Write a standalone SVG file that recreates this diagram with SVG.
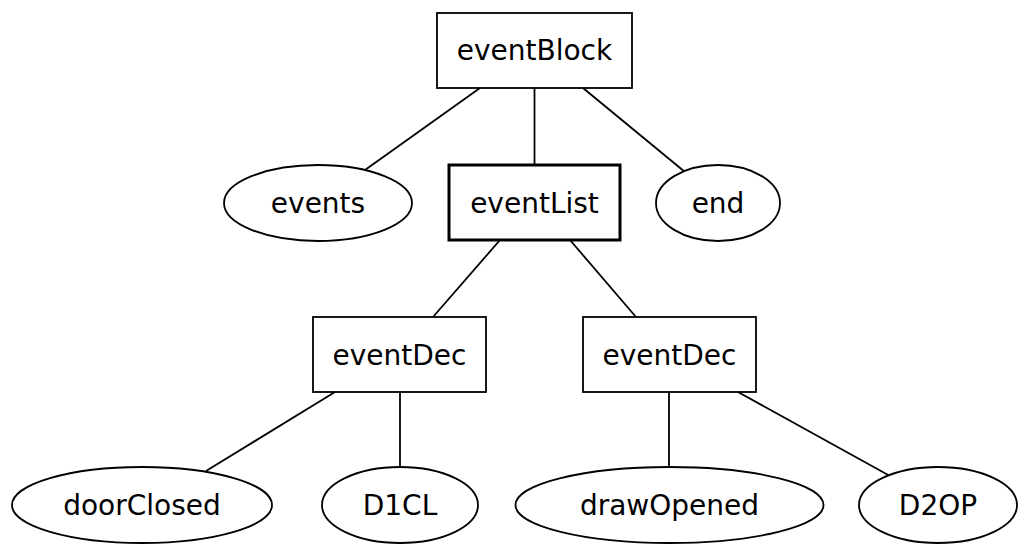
<svg xmlns="http://www.w3.org/2000/svg" width="1025" height="546" viewBox="0 0 1025 546">
<style>
.n{fill:#fff;stroke:#000;stroke-width:1.8}
.b{fill:#fff;stroke:#000;stroke-width:3}
.t{font-family:"DejaVu Sans",sans-serif;font-size:28px;text-anchor:middle;fill:#000}
.e{stroke:#000;stroke-width:1.8;fill:none}
</style>
<rect width="1025" height="546" fill="#fff"/>
<g id="edges">
<line class="e" x1="480" y1="88" x2="365" y2="170"/>
<line class="e" x1="534.5" y1="88" x2="534.5" y2="165"/>
<line class="e" x1="583" y1="88" x2="685" y2="172"/>
<line class="e" x1="500" y1="240" x2="433" y2="317"/>
<line class="e" x1="570" y1="240" x2="636" y2="317"/>
<line class="e" x1="335" y1="392" x2="206" y2="471"/>
<line class="e" x1="400" y1="392" x2="400" y2="467"/>
<line class="e" x1="669" y1="392" x2="669" y2="467"/>
<line class="e" x1="738" y1="392" x2="890" y2="476"/>
</g>
<g id="eventBlock"><rect class="n" x="437" y="13" width="195" height="75"/><text class="t" x="534.5" y="60">eventBlock</text></g>
<g id="events"><ellipse class="n" cx="318" cy="203" rx="94" ry="38"/><text class="t" x="318" y="213">events</text></g>
<g id="eventList"><rect class="b" x="449" y="165" width="171" height="75"/><text class="t" x="534.5" y="213">eventList</text></g>
<g id="end"><ellipse class="n" cx="718" cy="203" rx="62" ry="38"/><text class="t" x="718" y="213">end</text></g>
<g id="eventDec1"><rect class="n" x="313" y="317" width="173" height="75"/><text class="t" x="399.5" y="365">eventDec</text></g>
<g id="eventDec2"><rect class="n" x="583" y="317" width="173" height="75"/><text class="t" x="669.5" y="365">eventDec</text></g>
<g id="doorClosed"><ellipse class="n" cx="142" cy="505" rx="130" ry="38"/><text class="t" x="142" y="515">doorClosed</text></g>
<g id="D1CL"><ellipse class="n" cx="400" cy="505" rx="78" ry="38"/><text class="t" x="400" y="515">D1CL</text></g>
<g id="drawOpened"><ellipse class="n" cx="669.5" cy="505" rx="154" ry="38"/><text class="t" x="669.5" y="515">drawOpened</text></g>
<g id="D2OP"><ellipse class="n" cx="938" cy="505" rx="79" ry="38"/><text class="t" x="938" y="515">D2OP</text></g>
</svg>
